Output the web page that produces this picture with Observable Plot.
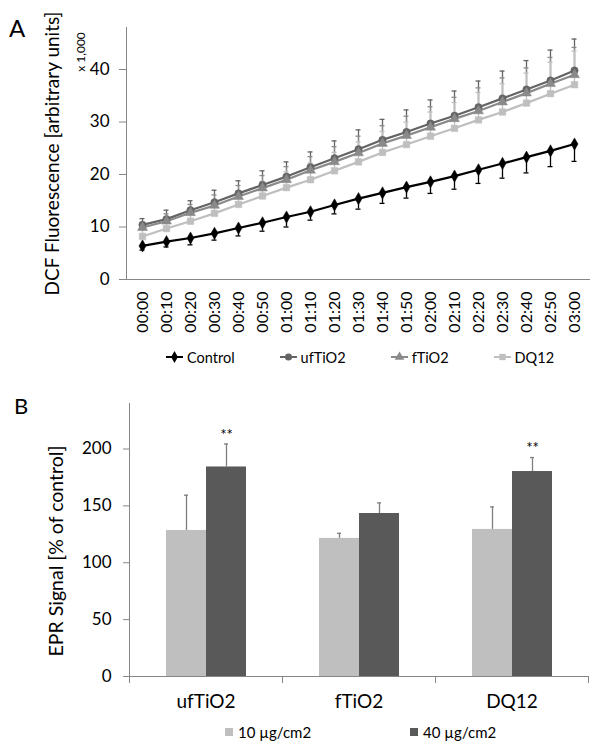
<!DOCTYPE html>
<html><head><meta charset="utf-8">
<script src="https://cdn.jsdelivr.net/npm/d3@7"></script>
<script src="https://cdn.jsdelivr.net/npm/@observablehq/plot@0.6"></script>
<style>
body{margin:0;background:#fff;font-family:Lato,sans-serif;color:#000;}
#root{position:relative;width:600px;height:749px;overflow:hidden;}
.abs{position:absolute;left:0;}
.legend{position:absolute;display:flex;align-items:center;height:20px;font-size:14.5px;white-space:nowrap;}
.legend .item{display:flex;align-items:center;}
.legend svg{display:block;}
</style></head><body><div id="root"></div>
<script>
// ---------- Panel A data ----------
const times = ["00:00","00:10","00:20","00:30","00:40","00:50","01:00","01:10","01:20","01:30","01:40","01:50","02:00","02:10","02:20","02:30","02:40","02:50","03:00"];
const control    = [6.4, 7.2, 7.9, 8.8, 9.8, 10.8, 11.9, 12.9, 14.2, 15.4, 16.5, 17.6, 18.6, 19.7, 20.9, 22.1, 23.3, 24.5, 25.8];
const controlErr = [0.8, 1.0, 1.3, 1.3, 1.5, 1.6, 1.9, 1.6, 1.7, 2.0, 2.0, 2.1, 2.2, 2.5, 2.6, 2.8, 3.0, 3.0, 3.3];
const ufTiO2     = [10.4, 11.5, 13.2, 14.7, 16.4, 18.0, 19.6, 21.4, 23.1, 24.8, 26.6, 28.1, 29.7, 31.2, 32.8, 34.5, 36.2, 37.9, 39.8];
const ufTiO2Err  = [1.2, 1.7, 1.8, 2.3, 2.4, 2.7, 2.8, 2.9, 3.3, 3.7, 3.9, 4.2, 4.5, 4.7, 5.0, 5.2, 5.5, 5.8, 6.0];
const fTiO2      = [9.9, 11.1, 12.7, 14.1, 15.8, 17.4, 19.0, 20.8, 22.4, 24.1, 25.9, 27.4, 29.0, 30.6, 32.1, 33.8, 35.5, 37.3, 39.0];
const fTiO2Err   = [1.0, 1.4, 1.6, 2.0, 2.1, 2.4, 2.5, 2.6, 2.9, 3.2, 3.4, 3.7, 3.9, 4.1, 4.4, 4.6, 4.8, 5.0, 5.2];
const dq12       = [8.2, 9.7, 11.1, 12.6, 14.3, 15.9, 17.5, 19.0, 20.7, 22.4, 24.2, 25.7, 27.3, 28.8, 30.4, 31.9, 33.6, 35.4, 37.1];
const dq12Err    = [1.2, 1.6, 1.9, 2.3, 2.5, 2.8, 3.0, 3.2, 3.5, 3.8, 4.0, 4.3, 4.6, 4.9, 5.2, 5.4, 5.7, 6.0, 6.4];
const seriesNames = ["Control","ufTiO2","fTiO2","DQ12"];
const yTicksA = [0,10,20,30,40];

// ---------- Panel B data ----------
const categories = ["ufTiO2","fTiO2","DQ12"];
const doses = ["10 µg/cm2","40 µg/cm2"];
const lowDose     = [128.4, 121.4, 129.3];
const lowDoseErr  = [31.0, 4.5, 19.8];
const lowDoseSig  = ["", "", ""];
const highDose    = [184.2, 143.3, 180.2];
const highDoseErr = [20.2, 9.3, 12.3];
const highDoseSig = ["**", "", "**"];
const yTicksB = [0,50,100,150,200];

// ---------- styling ----------
const FONT = "Lato";
const AXIS = "#868686";
const seriesColors = ["#000000","#646464","#8a8a8a","#bfbfbf"];
const seriesSymbols = ["diamond","circle","triangle","square"];
const doseColors = ["#bfbfbf","#595959"];
const errColor = "#7f7f7f";

const root = document.getElementById("root");

// ---------- Panel A ----------
const valuesBySeries = [control, ufTiO2, fTiO2, dq12];
const errBySeries = [controlErr, ufTiO2Err, fTiO2Err, dq12Err];
const rowsA = [];
seriesNames.forEach((s, i) => times.forEach((t, j) => {
  const dir = s === "Control" ? -1 : 1; // control shows minus-SD bars, others plus-SD bars
  rowsA.push({series: s, time: t, value: valuesBySeries[i][j], end: valuesBySeries[i][j] + dir * errBySeries[i][j]});
}));

const plotA = Plot.plot({
  width: 600, height: 345,
  marginTop: 27, marginBottom: 66, marginLeft: 126, marginRight: 11,
  style: {fontFamily: FONT, fontSize: "17px", color: "#000", background: "transparent", overflow: "visible"},
  x: {type: "band", domain: times, padding: 0, label: null},
  y: {domain: [0, 48], label: null},
  color: {domain: seriesNames, range: seriesColors},
  symbol: {domain: seriesNames, range: seriesSymbols},
  marks: [
    Plot.axisY({ticks: yTicksA, tickSize: 7, tickPadding: 10, stroke: AXIS, fontSize: 17, label: null}),
    Plot.axisY({ticks: [], tickSize: 0, fontSize: 19, label: "DCF Fluorescence [arbitrary units]", labelAnchor: "center", labelOffset: 81, labelArrow: "none"}),
    Plot.axisX({tickSize: 0, tickPadding: 12, tickRotate: -90, fontSize: 16, label: null}),
    Plot.ruleX(rowsA, {x: "time", y1: "value", y2: "end", stroke: "series", strokeWidth: 1.3}),
    Plot.tickY(rowsA, {x: "time", y: "end", stroke: "series", strokeWidth: 1.3, insetLeft: 9.5, insetRight: 9.5}),
    Plot.line(rowsA, {x: "time", y: "value", z: "series", stroke: "series", strokeWidth: 2.2}),
    Plot.dot(rowsA, {x: "time", y: "value", symbol: "series", fill: "series", stroke: "series", strokeWidth: 0.5, r: 3.7}),
    Plot.frame({anchor: "left", stroke: AXIS}),
    Plot.frame({anchor: "bottom", stroke: AXIS})
  ]
});
plotA.classList.add("abs");
plotA.style.top = "0px";
root.appendChild(plotA);

// Legend A
const legA = document.createElement("div");
legA.className = "legend";
legA.style.left = "166px"; legA.style.top = "347px"; legA.style.gap = "45px";
const d3sym = {diamond: d3.symbolDiamond, circle: d3.symbolCircle, triangle: d3.symbolTriangle, square: d3.symbolSquare};
seriesNames.forEach((s, i) => {
  const item = document.createElement("div"); item.className = "item";
  const sym = d3.symbol(d3sym[seriesSymbols[i]], 40)();
  item.innerHTML = `<svg width="17" height="12"><line x1="0" x2="17" y1="6" y2="6" stroke="${seriesColors[i]}" stroke-width="2"/><path transform="translate(8.5,6)" d="${sym}" fill="${seriesColors[i]}"/></svg><span style="margin-left:4px">${s}</span>`;
  legA.appendChild(item);
});
root.appendChild(legA);

// ---------- Panel B ----------
const rowsB = [];
categories.forEach((c, i) => {
  rowsB.push({cat: c, dose: doses[0], value: lowDose[i], top: lowDose[i] + lowDoseErr[i], sig: lowDoseSig[i]});
  rowsB.push({cat: c, dose: doses[1], value: highDose[i], top: highDose[i] + highDoseErr[i], sig: highDoseSig[i]});
});

const hB = 340, mtB = 23, mbB = 44;
const plotB = Plot.plot({
  width: 600, height: hB,
  marginTop: mtB, marginBottom: mbB, marginLeft: 128, marginRight: 12,
  style: {fontFamily: FONT, fontSize: "17px", color: "#000", background: "transparent", overflow: "visible"},
  fx: {domain: categories, padding: 0, label: null, axis: null},
  x: {domain: doses, paddingInner: 0, paddingOuter: 0.872, axis: null},
  y: {domain: [0, 240], label: null},
  color: {domain: doses, range: doseColors},
  marks: [
    Plot.axisFx({anchor: "bottom", tickSize: 0, tickPadding: 18, fontSize: 19, label: null}),
    Plot.axisY({ticks: yTicksB, tickSize: 6, tickPadding: 12, stroke: AXIS, fontSize: 17, label: null}),
    Plot.barY(rowsB, {fx: "cat", x: "dose", y: "value", fill: "dose", inset: 0}),
    Plot.ruleX(rowsB, {fx: "cat", x: "dose", y1: "value", y2: "top", stroke: errColor, strokeWidth: 1.3}),
    Plot.tickY(rowsB, {fx: "cat", x: "dose", y: "top", stroke: errColor, strokeWidth: 1.3, insetLeft: 18, insetRight: 18}),
    Plot.text(rowsB, {fx: "cat", x: "dose", y: "top", text: "sig", dy: -9, fontSize: 15, fill: "#000"}),
    Plot.ruleY([0], {stroke: AXIS}),
    Plot.frame({anchor: "left", stroke: AXIS, facet: "super"}),
    Plot.frame({anchor: "left", stroke: AXIS, insetTop: hB - mtB - mbB, insetBottom: -6}),
    Plot.frame({anchor: "right", stroke: AXIS, insetTop: hB - mtB - mbB, insetBottom: -6})
  ]
});
plotB.classList.add("abs");
plotB.style.top = "380px";
root.appendChild(plotB);

// Legend B
const legB = document.createElement("div");
legB.className = "legend";
legB.style.left = "225px"; legB.style.top = "722px"; legB.style.gap = "99px"; legB.style.fontSize = "15px";
doses.forEach((d, i) => {
  const item = document.createElement("div"); item.className = "item";
  item.innerHTML = `<svg width="8" height="8"><rect width="8" height="8" fill="${doseColors[i]}"/></svg><span style="margin-left:5px">${d}</span>`;
  legB.appendChild(item);
});
root.appendChild(legB);

// Panel letters, unit note and panel-B axis title
const ov = d3.create("svg").attr("width", 600).attr("height", 749).attr("class", "abs")
  .style("top", "0px").style("pointer-events", "none").style("font-family", FONT);
ov.append("text").attr("x", 9).attr("y", 37).attr("font-size", 24).text("A");
ov.append("text").attr("x", 14).attr("y", 414).attr("font-size", 22).text("B");
ov.append("text").attr("transform", "translate(85,52) rotate(-90)").attr("text-anchor", "middle").attr("font-size", 12).text("x 1,000");
ov.append("text").attr("transform", "translate(47,551) rotate(-90)").attr("text-anchor", "middle").attr("dy", "0.8em").attr("font-size", 19.5).text("EPR Signal [% of control]");
root.appendChild(ov.node());
</script></body></html>
